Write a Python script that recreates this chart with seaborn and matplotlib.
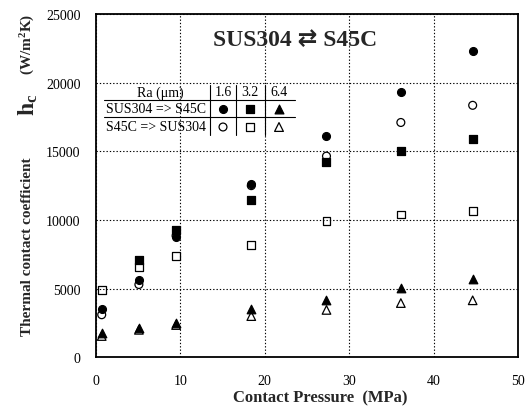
import numpy as np
import pandas as pd
import matplotlib
matplotlib.use("Agg")
import matplotlib.pyplot as plt
import seaborn as sns

# contact pressure (MPa)
pressure = [0.7, 5.1, 9.5, 18.4, 27.3, 36.1, 44.6]

# SUS304 => S45C (filled)
sus_ra16 = [3550, 5600, 8750, 12650, 16100, 19350, 22300]
sus_ra32 = [np.nan, 7050, 9250, 11450, 14200, 15050, 15900]
sus_ra64 = [1800, 2100, 2500, 3500, 4200, 5050, 5700]
# S45C => SUS304 (open)
s45_ra16 = [3100, 5300, 8850, 12500, 14650, 17100, 18350]
s45_ra32 = [4900, 6600, 7400, 8200, 9900, 10400, 10650]
s45_ra64 = [1550, 2000, 2350, 3000, 3450, 3950, 4150]

ra_labels = ["1.6", "3.2", "6.4"]
row_labels = ["SUS304 => S45C", "S45C => SUS304"]
markers = ["o", "s", "^"]

series = {
    ("S45C => SUS304", "1.6"): s45_ra16,
    ("S45C => SUS304", "3.2"): s45_ra32,
    ("S45C => SUS304", "6.4"): s45_ra64,
    ("SUS304 => S45C", "1.6"): sus_ra16,
    ("SUS304 => S45C", "3.2"): sus_ra32,
    ("SUS304 => S45C", "6.4"): sus_ra64,
}
rows = []
for (direction, ra), vals in series.items():
    for p, v in zip(pressure, vals):
        rows.append({"direction": direction, "ra": ra, "pressure": p, "hc": v})
df = pd.DataFrame(rows).dropna()

sns.set_theme(style="white")
plt.rcParams["font.family"] = ["Liberation Serif", "DejaVu Sans"]
plt.rcParams["mathtext.fontset"] = "custom"
plt.rcParams["mathtext.rm"] = "Liberation Serif:bold"
plt.rcParams["mathtext.bf"] = "Liberation Serif:bold"
plt.rcParams["mathtext.it"] = "Liberation Serif:bold"

W, H = 531, 410
fig = plt.figure(figsize=(W / 100, H / 100), dpi=100)
fig.patch.set_facecolor("white")
ax_l, ax_r, ax_t, ax_b = 95.8, 518.3, 15.0, 358.3
ax = fig.add_axes([ax_l / W, 1 - ax_b / H, (ax_r - ax_l) / W, (ax_b - ax_t) / H])


def afrac(px, py):
    return (px - ax_l) / (ax_r - ax_l), (ax_b - py) / (ax_b - ax_t)


# open markers first, filled markers drawn on top
for direction in ["S45C => SUS304", "SUS304 => S45C"]:
    filled = direction == "SUS304 => S45C"
    for ra in ra_labels:
        sub = df[(df["direction"] == direction) & (df["ra"] == ra)]
        m = markers[ra_labels.index(ra)]
        size = 32 if m != "^" else 38
        sns.scatterplot(data=sub, x="pressure", y="hc", marker=m, s=size,
                        facecolor="black" if filled else "none",
                        edgecolor="black", linewidth=0.9, ax=ax, zorder=3,
                        legend=False)

ax.set_xlim(0, 50)
ax.set_ylim(0, 25000)
ax.set_xticks([0, 10, 20, 30, 40, 50])
ax.set_yticks([0, 5000, 10000, 15000, 20000, 25000])
ax.tick_params(labelsize=10, length=0, colors="black")
ax.tick_params(axis="y", pad=11)
ax.tick_params(axis="x", pad=12)
ax.grid(True, color="black", linestyle=(0, (1.2, 1.8)), linewidth=0.8)
for sp in ax.spines.values():
    sp.set_color("black")
    sp.set_linewidth(1.3)
ax.set_xlabel("")
ax.set_ylabel("")

fig.text(320 / W, 1 - 398 / H, "Contact Pressure  (MPa)", ha="center", va="center",
         fontsize=12, fontweight="bold")
fig.text(28 / W, 1 - 247 / H, "Thermal contact coefficient", rotation=90,
         ha="center", va="center", fontsize=11, fontweight="bold")
fig.text(28 / W, 1 - 105 / H, r"$\mathbf{h}_{\mathbf{c}}$", rotation=90,
         ha="center", va="center", fontsize=17)
fig.text(28 / W, 1 - 44 / H, r"(W/m$^{2}$K)", rotation=90,
         ha="center", va="center", fontsize=11, fontweight="bold")

ax.text(*afrac(295, 40), "SUS304 \u21c4 S45C", transform=ax.transAxes,
        ha="center", va="center", fontsize=17, fontweight="bold",
        family=["Liberation Serif", "DejaVu Sans"])

# legend table
tk = dict(transform=ax.transAxes, va="center", fontsize=10, color="black")
ax.text(*afrac(160, 93), "Ra (\u03bcm)", ha="center", **tk)
col_x = [223, 250, 279]
for cx, lab in zip(col_x, ra_labels):
    ax.text(*afrac(cx, 93), lab, ha="center", **tk)
row_y = [110, 128]
for ry, lab in zip(row_y, row_labels):
    ax.text(*afrac(106, ry), lab, ha="left", **tk)
for i, ry in enumerate(row_y):
    for j, cx in enumerate(col_x):
        ax.scatter(*afrac(cx, ry), transform=ax.transAxes, marker=markers[j],
                   s=32 if j < 2 else 40, facecolor="black" if i == 0 else "none",
                   edgecolor="black", linewidth=0.9, zorder=4, clip_on=False)
for ly in [101, 118]:
    x0, y0 = afrac(104, ly)
    x1, _ = afrac(295, ly)
    ax.plot([x0, x1], [y0, y0], color="black", lw=0.8, transform=ax.transAxes, zorder=4)
for lx in [210, 236, 265]:
    xa, ya = afrac(lx, 86)
    _, yb = afrac(lx, 136)
    ax.plot([xa, xa], [ya, yb], color="black", lw=0.8, transform=ax.transAxes, zorder=4)

fig.savefig("out.png", dpi=100)
